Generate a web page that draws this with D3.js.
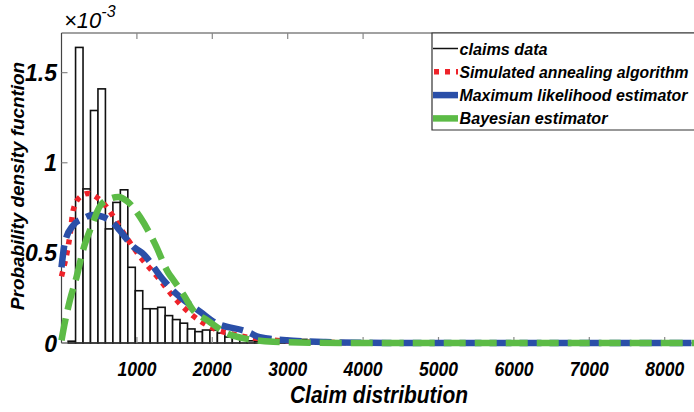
<!DOCTYPE html>
<html>
<head>
<meta charset="utf-8">
<script src="https://cdn.jsdelivr.net/npm/d3@7"></script>
<style>
  body { margin: 0; background: #fff; }
  svg text { font-family: "Liberation Sans", Arial, sans-serif; }
</style>
</head>
<body>
<div class="chart"></div>
<script>

// histogram of claims (bin centres and density, x10^-3)
var binCenters = [137, 236, 335, 434, 533, 632, 731, 830, 929, 1028, 1127, 1226, 1325, 1424, 1523, 1622,
	1721, 1820, 1919, 2018, 2117, 2216, 2315, 2414, 2513, 2612, 2711, 2810, 2909, 3008, 3107, 3206];
var binWidth = 99;
var claimsDensity = [0.01, 1.64, 0.855, 1.29, 1.41, 0.633, 0.78, 0.85, 0.42, 0.29, 0.19, 0.19, 0.198, 0.152, 0.13, 0.11,
	0.078, 0.063, 0.072, 0.072, 0.055, 0.033, 0.03, 0.017, 0.012, 0.01, 0.02, 0.01, 0.008, 0.01, 0.006, 0.02];

// fitted curves
var saX = [0, 113, 157, 245, 355, 421, 533, 643, 754, 1041, 1306, 1483, 1704, 1969, 2323, 2700, 3000, 3500, 4000, 5000, 8400];
var saY = [0.37, 0.6, 0.74, 0.81, 0.83, 0.82, 0.785, 0.73, 0.655, 0.48, 0.35, 0.257, 0.165, 0.09, 0.044, 0.02, 0.01, 0.004, 0.001, 0, 0];

var mleX = [0, 46, 150, 282, 420, 550, 700, 820, 950, 1070, 1350, 1480, 1850, 2030, 2460, 2630, 3070, 3500, 4000, 5000, 8400];
var mleY = [0.42, 0.56, 0.65, 0.69, 0.71, 0.70, 0.66, 0.6, 0.535, 0.5, 0.35, 0.29, 0.17, 0.115, 0.063, 0.032, 0.013, 0.005, 0.001, 0, 0];

var bayX = [0, 24, 113, 202, 289, 401, 511, 643, 753, 875, 1041, 1240, 1416, 1483, 1615, 1748, 1926, 2191, 2500, 2809, 3300, 4000, 8400];
var bayY = [0.015, 0.07, 0.24, 0.37, 0.52, 0.65, 0.76, 0.80, 0.81, 0.785, 0.70, 0.55, 0.39, 0.35, 0.27, 0.18, 0.128, 0.054, 0.02, 0.007, 0.002, 0, 0];

var xTicks = [1000, 2000, 3000, 4000, 5000, 6000, 7000, 8000];
var yTicks = [0, 0.5, 1, 1.5];
var yTickLabels = ['0', '0.5', '1', '1.5'];

var legendNames = ['claims data', 'Simulated annealing algorithm', 'Maximum likelihood estimator', 'Bayesian estimator'];
var legendWidths = [88, 229, 228, 148];

var width = 694;
var height = 412;
var m = {left: 61.5, top: 33, bottom: 343};

var svg = d3.select('.chart').append('svg')
	.attr('width', width)
	.attr('height', height)
	.attr('viewBox', `0 0 ${width} ${height}`);

var x = d3.scaleLinear().domain([0, 8400]).range([m.left, m.left + 8400 * 0.0754]);
var y = d3.scaleLinear().domain([0, 1.72]).range([m.bottom, m.top]);

// bars
svg.append('g').selectAll('rect')
	.data(claimsDensity)
	.enter()
	.append('rect')
	.attr('x', function(d, i) { return x(binCenters[i] - binWidth / 2); })
	.attr('width', function(d, i) { return x(binCenters[i] + binWidth / 2) - x(binCenters[i] - binWidth / 2); })
	.attr('y', function(d) { return y(d); })
	.attr('height', function(d) { return y(0) - y(d); })
	.attr('fill', '#fff')
	.attr('stroke', '#111')
	.attr('stroke-width', 1.6);

// axes
var axG = svg.append('g').attr('stroke', '#444').attr('stroke-width', 1.2);
axG.append('line').attr('x1', m.left).attr('x2', width).attr('y1', m.bottom).attr('y2', m.bottom);
axG.append('line').attr('x1', m.left).attr('x2', width).attr('y1', m.top).attr('y2', m.top);
axG.append('line').attr('x1', m.left).attr('x2', m.left).attr('y1', m.top).attr('y2', m.bottom);

xTicks.forEach(function(t) {
	axG.append('line').attr('x1', x(t)).attr('x2', x(t)).attr('y1', m.bottom).attr('y2', m.bottom - 6).attr('stroke', '#888');
	axG.append('line').attr('x1', x(t)).attr('x2', x(t)).attr('y1', m.top).attr('y2', m.top + 6).attr('stroke', '#888');
});
yTicks.forEach(function(t) {
	axG.append('line').attr('x1', m.left).attr('x2', m.left + 6).attr('y1', y(t)).attr('y2', y(t)).attr('stroke', '#888');
});

svg.append('g').selectAll('text')
	.data(xTicks)
	.enter()
	.append('text')
	.attr('x', function(d) { return x(d) - 19.5; })
	.attr('y', 376)
	.attr('font-size', 20)
	.attr('font-weight', 'bold')
	.attr('font-style', 'italic')
	.attr('textLength', 39)
	.attr('lengthAdjust', 'spacingAndGlyphs')
	.text(function(d) { return d; });

svg.append('g').selectAll('text')
	.data(yTicks)
	.enter()
	.append('text')
	.attr('x', 57)
	.attr('y', function(d) { return y(d) + 8.5; })
	.attr('text-anchor', 'end')
	.attr('font-size', 23)
	.attr('font-weight', 'bold')
	.attr('font-style', 'italic')
	.text(function(d, i) { return yTickLabels[i]; });

// exponent
var ex = svg.append('text').attr('x', 64).attr('y', 28).attr('font-size', 22).attr('font-style', 'italic');
ex.append('tspan').text('\u00d710');
ex.append('tspan').attr('dy', -11).attr('font-size', 16).text('-3');

// curves
var line = d3.line()
	.x(function(d) { return x(d[0]); })
	.y(function(d) { return y(d[1]); })
	.curve(d3.curveMonotoneX);

var curves = [
	{xs: saX, ys: saY, color: '#ee2229', w: 5.5, dash: '5,6'},
	{xs: mleX, ys: mleY, color: '#2a4fa8', w: 6.5, dash: '22,8'},
	{xs: bayX, ys: bayY, color: '#5cbb46', w: 6.5, dash: '22,9'}
];

curves.forEach(function(c) {
	svg.append('path')
		.datum(c.xs.map(function(v, i) { return [v, c.ys[i]]; }))
		.attr('d', line)
		.attr('fill', 'none')
		.attr('stroke', c.color)
		.attr('stroke-width', c.w)
		.attr('stroke-dasharray', c.dash);
});

// legend (right side runs off the picture, as in the original)
var lg = svg.append('g');
lg.append('rect').attr('x', 432).attr('y', 33).attr('width', 262).attr('height', 97)
	.attr('fill', '#fff');
lg.append('path').attr('d', 'M694,33H432V130H694')
	.attr('fill', 'none').attr('stroke', '#333').attr('stroke-width', 1.2);
var legStyles = [
	{color: '#111', w: 1.5, dash: null},
	{color: '#ee2229', w: 5.5, dash: '5,6'},
	{color: '#2a4fa8', w: 6.5, dash: null},
	{color: '#5cbb46', w: 6.5, dash: null}
];
legendNames.forEach(function(name, i) {
	var yy = 48.5 + i * 23.3;
	lg.append('line').attr('x1', i === 1 ? 434 : 433).attr('x2', 458).attr('y1', yy).attr('y2', yy)
		.attr('stroke', legStyles[i].color).attr('stroke-width', legStyles[i].w)
		.attr('stroke-dasharray', legStyles[i].dash);
	lg.append('text').attr('x', 459.5).attr('y', yy + 6)
		.attr('font-size', 16).attr('font-weight', 'bold').attr('font-style', 'italic')
		.attr('textLength', legendWidths[i])
		.attr('lengthAdjust', 'spacingAndGlyphs')
		.text(name);
});

// axis titles
svg.append('text')
	.attr('transform', 'translate(24,186) rotate(-90)')
	.attr('text-anchor', 'middle')
	.attr('font-size', 18).attr('font-weight', 'bold').attr('font-style', 'italic')
	.attr('textLength', 248)
	.attr('lengthAdjust', 'spacingAndGlyphs')
	.text('Probability density fucntion');

svg.append('text')
	.attr('x', 379).attr('y', 403)
	.attr('text-anchor', 'middle')
	.attr('font-size', 23).attr('font-weight', 'bold').attr('font-style', 'italic')
	.attr('textLength', 178)
	.attr('lengthAdjust', 'spacingAndGlyphs')
	.text('Claim distribution');

</script>
</body>
</html>
